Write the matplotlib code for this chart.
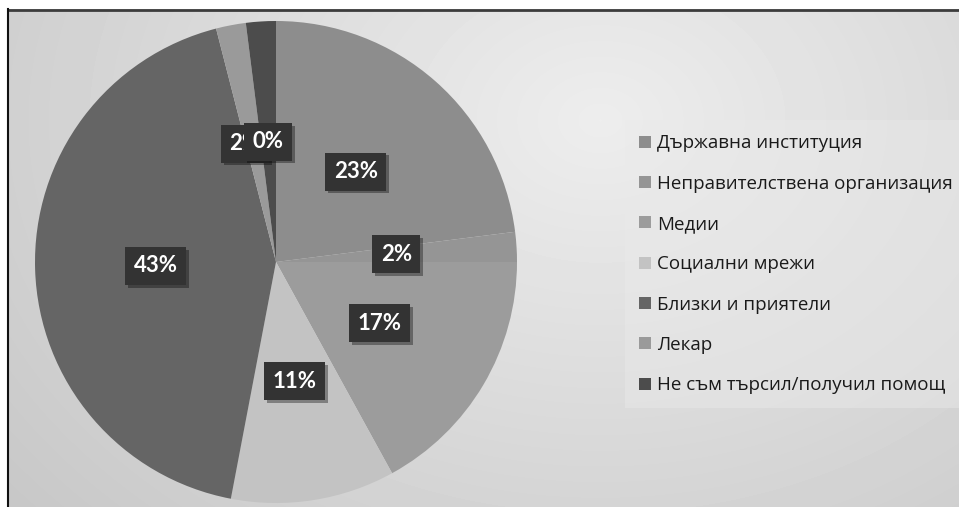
import numpy as np
import matplotlib
matplotlib.use('Agg')
import matplotlib.pyplot as plt
import matplotlib.patheffects as pe
from matplotlib.patches import Rectangle

# data
categories = ['Държавна институция', 'Неправителствена организация', 'Медии',
              'Социални мрежи', 'Близки и приятели', 'Лекар',
              'Не съм търсил/получил помощ']
values = [23, 2, 17, 11, 43, 2, 2]
labels = ['23%', '2%', '17%', '11%', '43%', '2%', '0%']
colors = ['#8d8d8d', '#959595', '#9c9c9c', '#c3c3c3', '#656565', '#9a9a9a', '#4c4c4c']

W, H = 959, 507
fig = plt.figure(figsize=(W / 100, H / 100), dpi=100)

# background with soft gradient + frame lines
bg = fig.add_axes([0, 0, 1, 1])
yy, xx = np.mgrid[0:H, 0:W]
d = np.hypot(xx - 600, (yy - 120) * 1.3)
v = 0.93 - 0.15 * d / d.max()
bg.imshow(v, cmap='gray', vmin=0, vmax=1, extent=[0, W, H, 0], aspect='auto')
bg.set_xlim(0, W)
bg.set_ylim(H, 0)
bg.axis('off')
bg.fill_between([0, W], 0, 9, color='white', lw=0)
bg.fill_betweenx([0, H], 0, 8, color='white', lw=0)
bg.plot([8, W], [9.5, 9.5], color='#3c3c3c', lw=2)
bg.plot([8, 8], [9, H], color='#111111', lw=1.5)
bg.add_patch(Rectangle((625, 120), 334, 288, color='#eaeaea', alpha=0.45, lw=0))

# pie
ax = fig.add_axes([35 / W, (H - 503) / H, 482 / W, 482 / H])
ax.patch.set_alpha(0)
wedges, _ = ax.pie(values, colors=colors, startangle=90, counterclock=False,
                   radius=1, wedgeprops=dict(linewidth=0))
ax.set_xlim(-1, 1)
ax.set_ylim(-1, 1)

for i, (w, lab) in enumerate(zip(wedges, labels)):
    ang = np.deg2rad((w.theta1 + w.theta2) / 2)
    # the two thin slices at the top collide, push the first one a bit left
    dx = -6 if i == len(wedges) - 2 else 0
    t = ax.annotate(lab, (0.5 * np.cos(ang), 0.5 * np.sin(ang)),
                    xytext=(dx, 0), textcoords='offset points',
                    ha='center', va='center',
                    color='white', fontsize=16, fontweight='bold',
                    family=['Lato', 'DejaVu Sans'],
                    bbox=dict(boxstyle='square,pad=0.38', fc='#333333', ec='none'))
    t.get_bbox_patch().set_path_effects([
        pe.SimplePatchShadow(offset=(2, -2), shadow_rgbFace='black', alpha=0.35),
        pe.Normal()])

leg = ax.legend(wedges, categories, loc='upper left',
                bbox_to_anchor=(630 / W, 1 - 125 / H), bbox_transform=fig.transFigure,
                frameon=False, borderpad=0, handlelength=0.6, handleheight=0.6,
                handletextpad=0.35, labelspacing=1.19,
                prop={'family': ['Open Sans', 'DejaVu Sans'], 'size': 13.5})
for txt in leg.get_texts():
    txt.set_color('#1a1a1a')

fig.savefig('out.png', dpi=100)
